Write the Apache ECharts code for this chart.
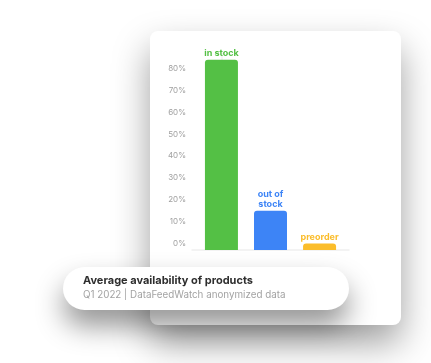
<!DOCTYPE html>
<html>
<head>
<meta charset="utf-8">
<script src="https://cdn.jsdelivr.net/npm/echarts@6/dist/echarts.min.js"></script>
<style>
html,body{margin:0;padding:0;background:#fff;}
#c{width:431px;height:363px;}
</style>
</head>
<body>
<div id="c"></div>
<script>
const categories = ['in stock', 'out of\nstock', 'preorder'];
const values = [87, 18, 3];
const colors = ['#54c045', '#3d84f6', '#fbbd2b'];
const yTicks = [0, 10, 20, 30, 40, 50, 60, 70, 80];
const titleText = 'Average availability of products';
const subtitleText = 'Q1 2022 | DataFeedWatch anonymized data';

const FONT = 'Inter, Lato, "Open Sans", sans-serif';
const chart = echarts.init(document.getElementById('c'), null, {renderer: 'canvas'});

chart.setOption({
  backgroundColor: '#ffffff',
  animation: false,
  textStyle: {fontFamily: FONT},
  graphic: [
    {
      type: 'rect', z: -10,
      shape: {x: 150, y: 31, width: 251, height: 294, r: 8},
      style: {fill: '#ffffff', shadowBlur: 36, shadowOffsetY: 18, shadowColor: 'rgba(0,0,0,0.38)'}
    },
    {
      type: 'rect', z: -9,
      shape: {x: 63, y: 267, width: 286, height: 43, r: 21.5},
      style: {fill: '#ffffff', shadowBlur: 28, shadowOffsetY: 16, shadowColor: 'rgba(0,0,0,0.42)'}
    }
  ],
  title: {
    text: titleText,
    subtext: subtitleText,
    left: 83,
    top: 274,
    itemGap: 1,
    padding: 0,
    z: 10,
    textStyle: {fontFamily: FONT, fontSize: 11, fontWeight: 'bold', color: '#2e2e2e', lineHeight: 14},
    subtextStyle: {fontFamily: FONT, fontSize: 9.8, color: '#a3a3a3', lineHeight: 12}
  },
  grid: {left: 192, right: 82, top: 53.125, bottom: 113, containLabel: false},
  xAxis: {
    type: 'value',
    min: -0.6, max: 2.6,
    axisLine: {show: true, lineStyle: {color: '#efefef', width: 1.5}},
    axisTick: {show: false},
    axisLabel: {show: false},
    splitLine: {show: false}
  },
  yAxis: {
    type: 'value',
    min: 0, max: 90, interval: 10,
    axisLine: {show: true, lineStyle: {color: '#f3f3f3', width: 1.5}},
    axisTick: {show: false},
    splitLine: {show: false},
    axisLabel: {
      color: '#a0a0a0', fontSize: 8, fontFamily: FONT, margin: 6,
      showMinLabel: true, hideOverlap: false,
      verticalAlign: 'bottom', lineHeight: 13,
      formatter: function (v) { return yTicks.indexOf(v) >= 0 ? v + '%' : ''; }
    }
  },
  series: [{
    type: 'bar',
    barWidth: 33,
    data: values.map(function (v, i) {
      return {
        value: [i, v],
        itemStyle: {color: colors[i], borderRadius: [3, 3, 0, 0]},
        label: {color: colors[i]}
      };
    }),
    label: {
      show: true,
      position: 'top',
      distance: 1.5,
      fontFamily: FONT,
      fontSize: 9,
      fontWeight: 'bold',
      lineHeight: 10,
      formatter: function (p) { return categories[p.dataIndex]; }
    }
  }]
});
</script>
</body>
</html>
